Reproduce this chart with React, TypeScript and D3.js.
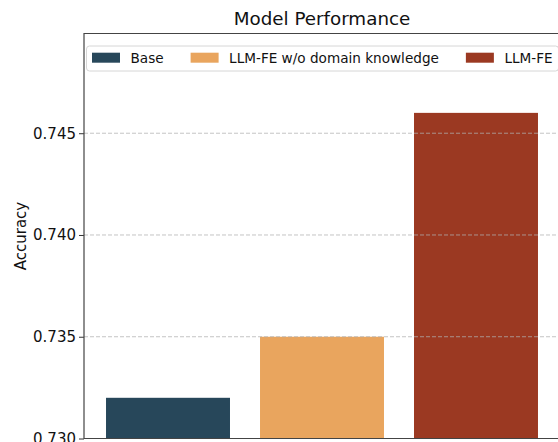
import React, { useRef, useEffect } from "react";
import * as d3 from "d3";

const models = ["Base", "LLM-FE w/o domain knowledge", "LLM-FE"];
const accuracy = [0.732, 0.735, 0.746];
const colors = ["#27475a", "#e9a55e", "#9b3922"];
const yTicks = [0.73, 0.735, 0.74, 0.745];

const width = 558;
const height = 442;
const plotLeft = 84;
const plotRight = 560;
const plotTop = 33.5;
const plotBottom = 438.5;

export default function App() {
  const svgRef = useRef<SVGSVGElement | null>(null);

  useEffect(() => {
    const svg = d3.select(svgRef.current);
    svg.selectAll("*").remove();
    const font = "DejaVu Sans, sans-serif";

    const x = d3
      .scaleBand()
      .domain(models)
      .range([plotLeft, plotRight])
      .paddingInner(0.195)
      .paddingOuter(0.143);
    const y = d3.scaleLinear().domain([0.73, 0.7499]).range([plotBottom, plotTop]);

    // bars
    svg
      .selectAll(".bar")
      .data(models)
      .join("rect")
      .attr("class", "bar")
      .attr("x", (d) => x(d) || 0)
      .attr("width", x.bandwidth())
      .attr("y", (d, i) => y(accuracy[i]))
      .attr("height", (d, i) => plotBottom - y(accuracy[i]))
      .attr("fill", (d, i) => colors[i]);

    // grid over the bars
    svg
      .selectAll(".grid")
      .data(yTicks)
      .join("line")
      .attr("class", "grid")
      .attr("x1", plotLeft)
      .attr("x2", plotRight)
      .attr("y1", (d) => y(d))
      .attr("y2", (d) => y(d))
      .attr("stroke", "#b0b0b0")
      .attr("stroke-opacity", 0.75)
      .attr("stroke-width", 1)
      .attr("stroke-dasharray", "4,2");

    // y axis
    const axis = d3
      .axisLeft(y)
      .tickValues(yTicks)
      .tickFormat(d3.format(".3f"))
      .tickSize(5)
      .tickPadding(3);
    const g = svg.append("g").attr("transform", `translate(${plotLeft},0)`).call(axis);
    g.select(".domain").remove();
    g.selectAll(".tick line").attr("stroke", "#333").attr("stroke-width", 1);
    g.selectAll(".tick text")
      .attr("font-family", font)
      .attr("font-size", 15)
      .attr("fill", "#111");

    // spines
    svg
      .append("path")
      .attr("d", `M${plotRight},${plotTop}H${plotLeft}V${plotBottom}H${plotRight}`)
      .attr("fill", "none")
      .attr("stroke", "#444")
      .attr("stroke-width", 1.2);

    svg
      .append("text")
      .attr("x", (plotLeft + plotRight) / 2)
      .attr("y", 25)
      .attr("text-anchor", "middle")
      .attr("font-family", font)
      .attr("font-size", 18.3)
      .attr("fill", "#111")
      .text("Model Performance");

    svg
      .append("text")
      .attr("transform", `translate(26,${(plotTop + plotBottom) / 2}) rotate(-90)`)
      .attr("text-anchor", "middle")
      .attr("font-family", font)
      .attr("font-size", 15)
      .attr("fill", "#111")
      .text("Accuracy");

    // legend
    const legend = svg.append("g");
    const box = legend
      .append("rect")
      .attr("x", 86.5)
      .attr("y", 46)
      .attr("height", 25)
      .attr("rx", 3)
      .attr("fill", "#fff")
      .attr("fill-opacity", 0.85)
      .attr("stroke", "#d6d6d6");
    let cx = 92;
    models.forEach((m, i) => {
      legend
        .append("rect")
        .attr("x", cx)
        .attr("y", 52.7)
        .attr("width", 28)
        .attr("height", 10)
        .attr("fill", colors[i]);
      const t = legend
        .append("text")
        .attr("x", cx + 38.5)
        .attr("y", 62.8)
        .attr("font-family", font)
        .attr("font-size", 13.6)
        .attr("fill", "#111")
        .text(m);
      const w = (t.node() as SVGTextElement).getComputedTextLength();
      cx = cx + 38.5 + w + 27;
    });
    box.attr("width", cx - 27 + 6 - 86.5);
  }, []);

  return (
    <svg
      ref={svgRef}
      width={width}
      height={height}
      style={{ position: "absolute", left: 0, top: 0, background: "#fff" }}
    />
  );
}
